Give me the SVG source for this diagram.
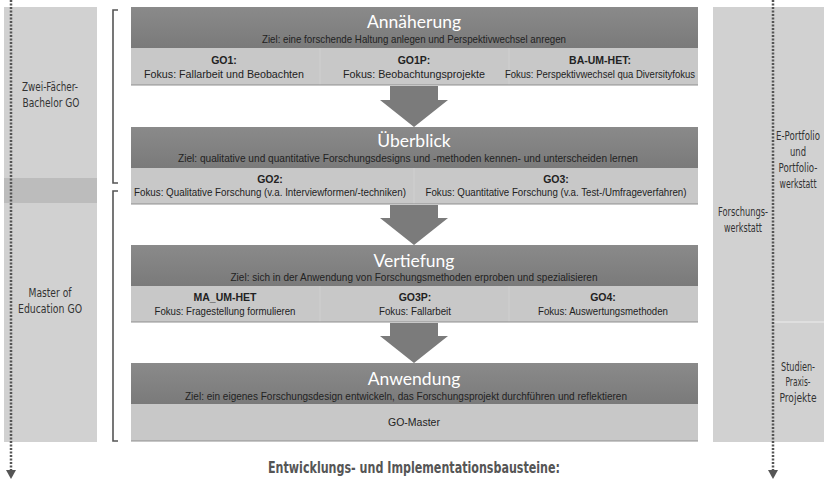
<svg xmlns="http://www.w3.org/2000/svg" width="824" height="482" viewBox="0 0 824 482">
<defs>
<linearGradient id="hdr" x1="0" y1="0" x2="0" y2="1">
<stop offset="0" stop-color="#8a8a8a"/>
<stop offset="1" stop-color="#7a7a7a"/>
</linearGradient>
<style>
.side{fill:#d1d1d1}
.band{fill:#bcbcbc}
.hdr{fill:url(#hdr)}
.row{fill:#c8c8c8}
.sep{stroke:#d0d0d0;stroke-width:1}
.rowline{stroke:#8f8f8f;stroke-width:1}
.arrow{fill:#7b7b7b}
.dots{stroke:#555;stroke-width:2.5;stroke-dasharray:2 1.5;fill:none}
.brk{stroke:#555;stroke-width:1.6;fill:none}
.cond{font-family:"DejaVu Sans Condensed","DejaVu Sans",sans-serif;font-stretch:condensed;fill:#333;text-anchor:middle}
.side-t{font-size:12.5px}
.title{font-family:Lato,"Open Sans",sans-serif;font-size:17.5px;fill:#fff;text-anchor:middle}
.ziel{font-family:"Liberation Sans",sans-serif;font-size:10.5px;fill:#222;text-anchor:middle}
.code{font-family:"Liberation Sans",sans-serif;font-size:10.5px;font-weight:bold;fill:#222;text-anchor:middle}
.fok{font-family:"Liberation Sans",sans-serif;font-size:10.5px;fill:#222;text-anchor:middle}
.foot{font-family:"DejaVu Sans Condensed","DejaVu Sans",sans-serif;font-stretch:condensed;font-size:16px;font-weight:bold;fill:#555;text-anchor:middle}
</style>
</defs>

<g id="left-column">
<rect class="side" x="4" y="7" width="93" height="435"/>
<rect class="band" x="4" y="178" width="93" height="25"/>
<text class="cond side-t" x="50" y="91" textLength="56" lengthAdjust="spacingAndGlyphs">Zwei-Fächer-</text>
<text class="cond side-t" x="51" y="107" textLength="57" lengthAdjust="spacingAndGlyphs">Bachelor GO</text>
<text class="cond side-t" x="50" y="297" textLength="43" lengthAdjust="spacingAndGlyphs">Master of</text>
<text class="cond side-t" x="50" y="313" textLength="64" lengthAdjust="spacingAndGlyphs">Education GO</text>
</g>

<g id="right-column">
<rect class="side" x="713" y="7" width="111" height="435"/>
<line x1="773" y1="322" x2="824" y2="322" stroke="#eeeeee" stroke-width="1.2"/>
<text class="cond side-t" x="743" y="216" textLength="50" lengthAdjust="spacingAndGlyphs">Forschungs-</text>
<text class="cond side-t" x="743" y="232" textLength="38" lengthAdjust="spacingAndGlyphs">werkstatt</text>
<text class="cond side-t" x="798" y="140" textLength="44" lengthAdjust="spacingAndGlyphs">E-Portfolio</text>
<text class="cond side-t" x="798" y="156" textLength="16" lengthAdjust="spacingAndGlyphs">und</text>
<text class="cond side-t" x="798" y="172" textLength="39" lengthAdjust="spacingAndGlyphs">Portfolio-</text>
<text class="cond side-t" x="798" y="188" textLength="37" lengthAdjust="spacingAndGlyphs">werkstatt</text>
<text class="cond side-t" x="798" y="371" textLength="34" lengthAdjust="spacingAndGlyphs">Studien-</text>
<text class="cond side-t" x="798" y="386" textLength="25" lengthAdjust="spacingAndGlyphs">Praxis-</text>
<text class="cond side-t" x="798" y="402" textLength="37" lengthAdjust="spacingAndGlyphs">Projekte</text>
</g>

<g id="brackets">
<path class="brk" d="M118,10 H113 V183 H118"/>
<path class="brk" d="M118,191 H113 V441 H118"/>
</g>

<g id="block-annaeherung">
<rect class="hdr" x="131" y="7" width="567" height="41"/>
<rect class="row" x="131" y="48" width="567" height="37"/>
<line class="sep" x1="320" y1="48" x2="320" y2="85"/>
<line class="sep" x1="509" y1="48" x2="509" y2="85"/>
<line class="rowline" x1="131" y1="85" x2="698" y2="85"/>
<text class="title" x="414" y="28">Annäherung</text>
<text class="ziel" x="414" y="43" textLength="304" lengthAdjust="spacingAndGlyphs">Ziel: eine forschende Haltung anlegen und Perspektivwechsel anregen</text>
<text class="code" x="224" y="64">GO1:</text>
<text class="fok" x="224" y="78" textLength="160" lengthAdjust="spacingAndGlyphs">Fokus: Fallarbeit und Beobachten</text>
<text class="code" x="414" y="64">GO1P:</text>
<text class="fok" x="414" y="78" textLength="142" lengthAdjust="spacingAndGlyphs">Fokus: Beobachtungsprojekte</text>
<text class="code" x="600" y="64">BA-UM-HET:</text>
<text class="fok" x="600" y="78" textLength="190" lengthAdjust="spacingAndGlyphs">Fokus: Perspektivwechsel qua Diversityfokus</text>
</g>

<g id="block-ueberblick">
<rect class="hdr" x="131" y="127" width="567" height="41"/>
<rect class="row" x="131" y="168" width="567" height="36"/>
<line class="sep" x1="414" y1="168" x2="414" y2="204"/>
<line class="rowline" x1="131" y1="204" x2="698" y2="204"/>
<text class="title" x="414" y="147">Überblick</text>
<text class="ziel" x="408" y="162" textLength="460" lengthAdjust="spacingAndGlyphs">Ziel: qualitative und quantitative Forschungsdesigns und -methoden kennen- und unterscheiden lernen</text>
<text class="code" x="270" y="183">GO2:</text>
<text class="fok" x="270" y="196" textLength="272" lengthAdjust="spacingAndGlyphs">Fokus: Qualitative Forschung (v.a. Interviewformen/-techniken)</text>
<text class="code" x="556" y="183">GO3:</text>
<text class="fok" x="556" y="196" textLength="261" lengthAdjust="spacingAndGlyphs">Fokus: Quantitative Forschung (v.a. Test-/Umfrageverfahren)</text>
</g>

<g id="block-vertiefung">
<rect class="hdr" x="131" y="245" width="567" height="41"/>
<rect class="row" x="131" y="286" width="567" height="36"/>
<line class="sep" x1="320" y1="286" x2="320" y2="322"/>
<line class="sep" x1="509" y1="286" x2="509" y2="322"/>
<line class="rowline" x1="131" y1="322" x2="698" y2="322"/>
<text class="title" x="414" y="267">Vertiefung</text>
<text class="ziel" x="414" y="281" textLength="367" lengthAdjust="spacingAndGlyphs">Ziel: sich in der Anwendung von Forschungsmethoden erproben und spezialisieren</text>
<text class="code" x="225" y="301">MA_UM-HET</text>
<text class="fok" x="225" y="315" textLength="141" lengthAdjust="spacingAndGlyphs">Fokus: Fragestellung formulieren</text>
<text class="code" x="415" y="301">GO3P:</text>
<text class="fok" x="415" y="315" textLength="72" lengthAdjust="spacingAndGlyphs">Fokus: Fallarbeit</text>
<text class="code" x="603" y="301">GO4:</text>
<text class="fok" x="603" y="315" textLength="130" lengthAdjust="spacingAndGlyphs">Fokus: Auswertungsmethoden</text>
</g>

<g id="block-anwendung">
<rect class="hdr" x="131" y="363" width="567" height="41"/>
<rect class="row" x="131" y="404" width="567" height="37"/>
<line class="rowline" x1="131" y1="441" x2="698" y2="441"/>
<text class="title" x="414" y="385">Anwendung</text>
<text class="ziel" x="406" y="400" textLength="442" lengthAdjust="spacingAndGlyphs">Ziel: ein eigenes Forschungsdesign entwickeln, das Forschungsprojekt durchführen und reflektieren</text>
<text class="fok" x="414" y="426">GO-Master</text>
</g>

<g id="connectors">
<path class="arrow" d="M390,86 H438 V100 H448 L414,127 L380,100 H390 Z"/>
<path class="arrow" d="M390,205 H438 V218 H448 L414,245 L380,218 H390 Z"/>
<path class="arrow" d="M390,323 H438 V336 H448 L414,363 L380,336 H390 Z"/>
<line class="dots" x1="11" y1="0" x2="11" y2="471"/>
<path d="M6,470 L16,470 L11,479 Z" fill="#555"/>
<line class="dots" x1="773" y1="0" x2="773" y2="471"/>
<path d="M768,470 L778,470 L773,479 Z" fill="#555"/>
</g>

<g id="footer">
<text class="foot" x="414" y="473" textLength="292" lengthAdjust="spacingAndGlyphs">Entwicklungs- und Implementationsbausteine:</text>
</g>
</svg>
